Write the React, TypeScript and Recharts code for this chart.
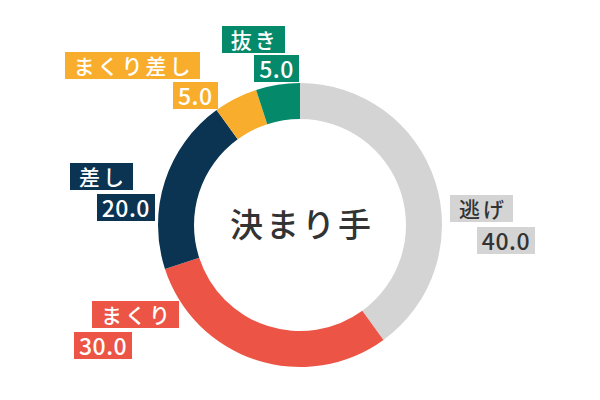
import { Cell, Pie, PieChart } from "recharts";

const categories = ["逃げ", "まくり", "差し", "まくり差し", "抜き"];
const values = [40.0, 30.0, 20.0, 5.0, 5.0];
const colors = ["#d4d4d4", "#ec5446", "#0b3452", "#f8ad2c", "#048a6b"];
const labelColors = ["#333333", "#ffffff", "#ffffff", "#ffffff", "#ffffff"];

// label block offsets from the slice's outer mid point: [name right, name top, value right, value top]
const labelOffsets = [
  [78, 14, 100, 46],
  [-77, -59, -124, -28],
  [-32, -18, -10, 13],
  [-36, -46, -18, -16],
  [7, -59, 21, -30],
];

const data = categories.map((name, i) => ({ name, value: values[i] }));

const FONT = "'Noto Sans CJK JP', 'Noto Sans', sans-serif";
const RAD = Math.PI / 180;

function LabelBox({ x, y, text, bg, color, padding, spacing, size }: { x: number; y: number; text: string; bg: string; color: string; padding: string; spacing: number; size: number }) {
  const w = 240;
  return (
    <foreignObject x={x - w} y={y} width={w} height={32}>
      <div style={{ textAlign: "right", fontFamily: FONT, fontSize: size, fontWeight: 500, lineHeight: "27px" }}>
        <span style={{ display: "inline-block", background: bg, color, padding, letterSpacing: spacing }}>{text}</span>
      </div>
    </foreignObject>
  );
}

function renderLabel(props: any) {
  const { cx, cy, midAngle, outerRadius, index, name, value } = props;
  const ax = cx + outerRadius * Math.cos(-midAngle * RAD);
  const ay = cy + outerRadius * Math.sin(-midAngle * RAD);
  const [nx, ny, vx, vy] = labelOffsets[index];
  return (
    <g>
      <LabelBox x={ax + nx} y={ay + ny} text={name} bg={colors[index]} color={labelColors[index]} padding="0 6px 0 9px" spacing={3} size={21} />
      <LabelBox x={ax + vx} y={ay + vy} text={value.toFixed(1)} bg={colors[index]} color={labelColors[index]} padding="0 5px" spacing={0.5} size={23} />
    </g>
  );
}

export default function App() {
  return (
    <div style={{ position: "absolute", left: 0, top: 0, background: "#fff" }}>
      <PieChart width={600} height={400} margin={{ top: 0, right: 0, bottom: 0, left: 0 }}>
        <Pie
          data={data}
          dataKey="value"
          nameKey="name"
          cx={300}
          cy={225}
          innerRadius={106}
          outerRadius={142}
          startAngle={90}
          endAngle={-270}
          stroke="none"
          label={renderLabel}
          labelLine={false}
          isAnimationActive={false}
        >
          {data.map((d, i) => (
            <Cell key={d.name} fill={colors[i]} />
          ))}
        </Pie>
        <text x={302} y={223} textAnchor="middle" dominantBaseline="central" fontFamily={FONT} fontSize={33} fontWeight={500} letterSpacing={3} fill="#333333">
          決まり手
        </text>
      </PieChart>
    </div>
  );
}
